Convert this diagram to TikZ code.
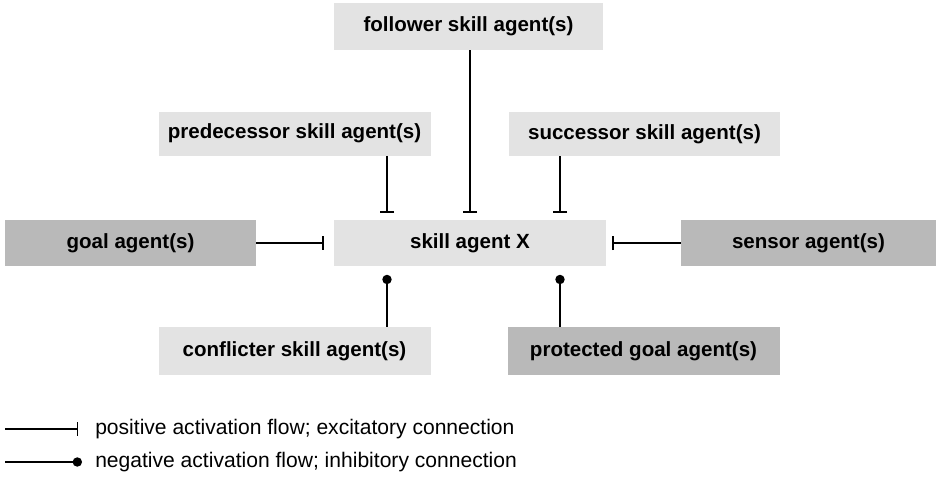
\documentclass[tikz,border=0pt]{standalone}
\usepackage{fontspec}
\setmainfont{Liberation Sans}
\usetikzlibrary{arrows.meta,calc}

\tikzset{
  agent/.style={fill=gray!22, minimum width=204pt, minimum height=34.5pt, inner sep=0pt,
    font=\fontsize{15.4}{17}\selectfont\bfseries},
  darkagent/.style={agent, fill=gray!55},
  excite/.style={-{Bar[width=10.5pt,line width=1pt]}, line width=1pt},
  inhibit/.style={-{Circle[length=7pt]}, line width=1pt},
  legendtext/.style={anchor=west, inner sep=0pt, font=\fontsize{15.8}{18}\selectfont},
}

\begin{document}
\begin{tikzpicture}[x=0.75pt,y=0.75pt,yscale=-1,xscale=1]
\useasboundingbox (0,0) rectangle (936,479);

% agents
\node[agent] (skill) at (470,243) {skill agent X};
\node[agent, minimum width=202pt, minimum height=35.25pt] (follower) at (468.5,26.5) {follower skill agent(s)};
\node[agent, minimum height=33pt] (pred) at (294.5,133.5) {predecessor skill agent(s)};
\node[agent, minimum width=203pt, minimum height=33pt] (succ) at (644.5,134) {successor skill agent(s)};
\node[darkagent, minimum width=188pt] (goal) at (130.5,243) {goal agent(s)};
\node[darkagent, minimum width=191pt] (sensor) at (808.5,243) {sensor agent(s)};
\node[agent, minimum height=36pt] (confl) at (294.5,351) {conflicter skill agent(s)};
\node[darkagent, minimum height=36pt] (prot) at (643.5,351) {protected goal agent(s)};

% connection points on skill agent X
\coordinate (inL) at ($(skill.north)+(-83,0)$);
\coordinate (inR) at ($(skill.north)+(90,0)$);
\coordinate (outL) at ($(skill.south)+(-83,0)$);
\coordinate (outR) at ($(skill.south)+(90,0)$);

% excitatory
\draw[excite, shorten >=5.25pt] (follower.south -| skill.north) -- (skill.north);
\draw[excite, shorten >=5.25pt] (pred.south -| inL) -- (inL);
\draw[excite, shorten >=5.25pt] (succ.south -| inR) -- (inR);
\draw[excite, shorten >=7.5pt] (goal.east) -- (skill.west);
\draw[excite, shorten >=4.5pt] (sensor.west) -- (skill.east);

% inhibitory
\draw[inhibit, shorten >=6.4pt] (confl.north -| outL) -- (outL);
\draw[inhibit, shorten >=6.4pt] (prot.north -| outR) -- (outR);

% legend
\coordinate (lg1) at (5,429);
\coordinate (lg1e) at (78,429);
\coordinate (lg2) at (5,462);
\coordinate (lg2e) at (82,462);
\node[legendtext] (lt1) at (95,429) {positive activation flow; excitatory connection};
\node[legendtext] (lt2) at (95,462) {negative activation flow; inhibitory connection};
\draw[excite] (lg1) -- (lg1e);
\draw[inhibit] (lg2) -- (lg2e);

\end{tikzpicture}
\end{document}
